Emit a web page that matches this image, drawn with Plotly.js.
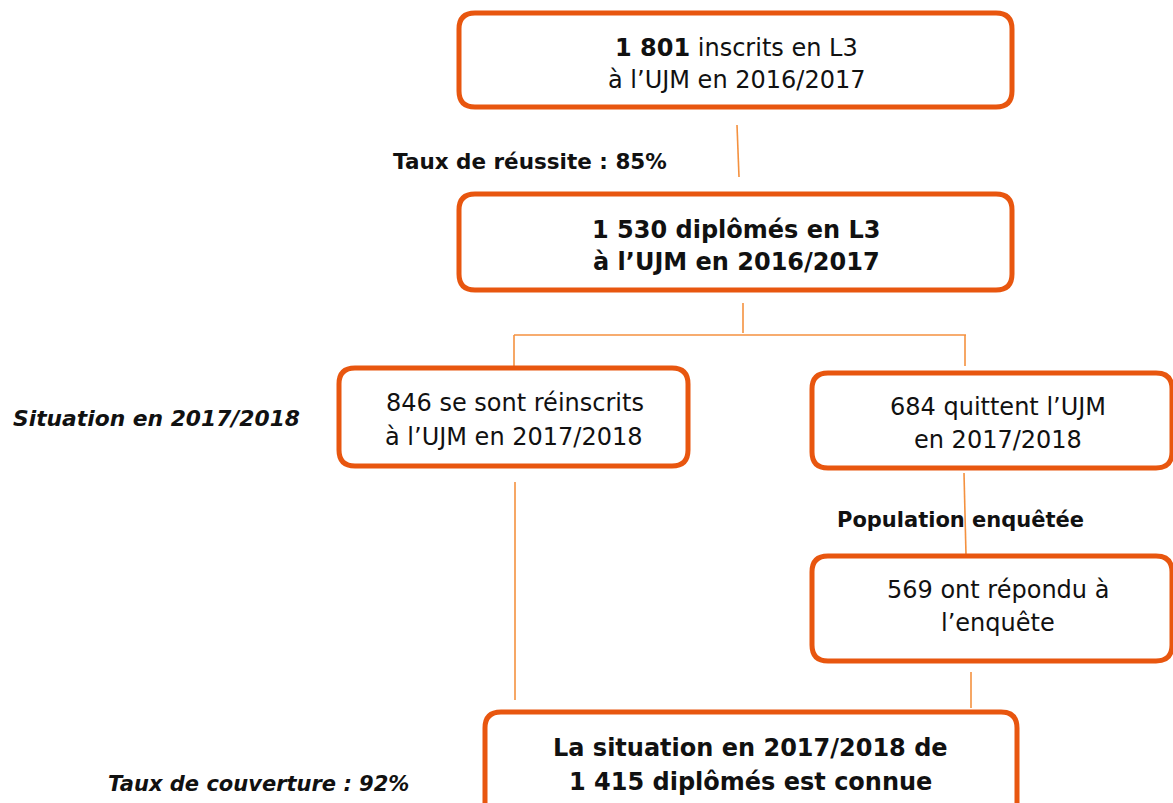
<!DOCTYPE html>
<html>
<head>
<meta charset="utf-8">
<script src="https://cdn.plot.ly/plotly-3.0.1.min.js"></script>
<style>html,body{margin:0;padding:0;background:#fff;}#chart{width:1173px;height:803px;}</style>
</head>
<body>
<div id="chart"></div>
<script>
// ---- data ----
const inscrits = 1801;
const diplomes = 1530;
const reinscrits = 846;
const quittent = 684;
const repondu = 569;
const connue = 1415;
const tauxReussite = 85;
const tauxCouverture = 92;
const anneeN = "2016/2017";
const anneeN1 = "2017/2018";

function fmt(n){ return String(n).replace(/\B(?=(\d{3})+(?!\d))/g, " "); }

// ---- layout geometry (pixels) ----
const BOX = "#E8560F", LINE = "#F4913F";
const boxes = [
  [459, 13, 1012, 107],
  [459, 194, 1012, 290],
  [339, 368, 688, 466],
  [812, 373, 1172, 468],
  [812, 556, 1172, 661],
  [485, 712, 1017, 830]
];
const connectors = [
  [737,125,739,177],
  [743,303,743,333],
  [514,335,966,335],
  [514,335,514,366],
  [965,335,965,366],
  [515,482,515,700],
  [964,473,966,555],
  [971,672,971,708]
];

function rrect(b, r){
  const [x0,y0,x1,y1] = b;
  return `M${x0+r},${y0} L${x1-r},${y0} Q${x1},${y0} ${x1},${y0+r} L${x1},${y1-r} Q${x1},${y1} ${x1-r},${y1} L${x0+r},${y1} Q${x0},${y1} ${x0},${y1-r} L${x0},${y0+r} Q${x0},${y0} ${x0+r},${y0} Z`;
}

const shapes = [];
connectors.forEach(c => shapes.push({type:"line", xref:"x", yref:"y", x0:c[0], y0:c[1], x1:c[2], y1:c[3], line:{color:LINE, width:1.6}}));
boxes.forEach(b => shapes.push({type:"path", xref:"x", yref:"y", path:rrect(b,16), line:{color:BOX, width:5}, fillcolor:"rgba(255,255,255,0)"}));

const FF = "Verdana, 'DejaVu Sans', sans-serif";
const BS = 24;
function t(text, x, y, size, opts){
  opts = opts || {};
  return {text:text, x:x, y:y, xref:"x", yref:"y", showarrow:false, xanchor:opts.xanchor||"center", yanchor:"middle",
          font:{family:FF, size:size, color:"#111", weight: opts.bold?"bold":"normal", style: opts.italic?"italic":"normal"}};
}

const annotations = [
  t(`<b>${fmt(inscrits)}</b> inscrits en L3`, 736, 48, BS),
  t(`à l’UJM en ${anneeN}`, 736, 80, BS),
  t(`Taux de réussite : ${tauxReussite}%`, 391, 161, 21.5, {bold:true, xanchor:"left"}),
  t(`${fmt(diplomes)} diplômés en L3`, 736, 230, BS, {bold:true}),
  t(`à l’UJM en ${anneeN}`, 736, 262, BS, {bold:true}),
  t(`Situation en ${anneeN1}`, 11, 418, 21.8, {bold:true, italic:true, xanchor:"left"}),
  t(`${reinscrits} se sont réinscrits`, 384, 403, BS, {xanchor:"left"}),
  t(`à l’UJM en ${anneeN1}`, 383, 437, BS, {xanchor:"left"}),
  t(`${quittent} quittent l’UJM`, 998, 407, BS),
  t(`en ${anneeN1}`, 998, 440, BS),
  t(`Population enquêtée`, 835, 520, 21, {bold:true, xanchor:"left"}),
  t(`${repondu} ont répondu à`, 998, 590, BS),
  t(`l’enquête`, 998, 623, BS),
  t(`La situation en ${anneeN1} de`, 750, 748, BS, {bold:true}),
  t(`${fmt(connue)} diplômés est connue`, 750, 782, BS, {bold:true}),
  t(`Taux de couverture : ${tauxCouverture}%`, 106, 784, 21, {bold:true, italic:true, xanchor:"left"})
];

const layout = {
  width:1173, height:803,
  margin:{l:0,r:0,t:0,b:0},
  paper_bgcolor:"#fff", plot_bgcolor:"#fff",
  xaxis:{range:[0,1173], visible:false, fixedrange:true},
  yaxis:{range:[803,0], visible:false, fixedrange:true},
  shapes:shapes, annotations:annotations, showlegend:false
};
Plotly.newPlot("chart", [], layout, {staticPlot:true, displayModeBar:false});
</script>
</body>
</html>
